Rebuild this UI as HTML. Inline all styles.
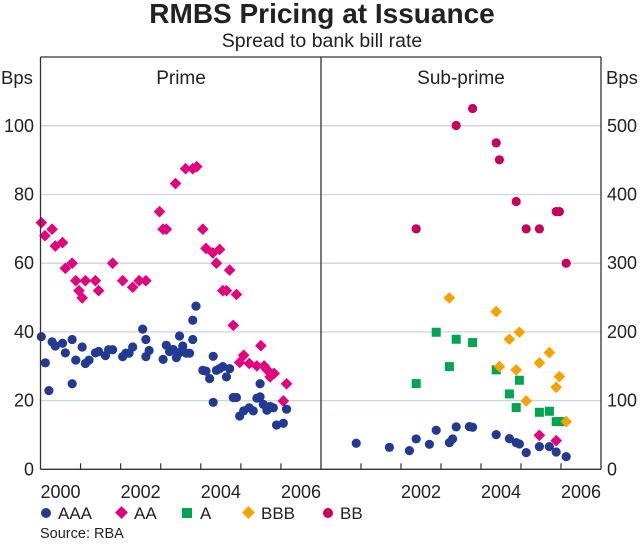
<!DOCTYPE html>
<html><head><meta charset="utf-8"><style>
body{margin:0;background:#fff;width:644px;height:540px;overflow:hidden;font-family:"Liberation Sans",Arial,sans-serif}
svg text{font-family:"Liberation Sans",Arial,sans-serif;fill:#222}
</style></head><body>
<svg id="c" width="644" height="540" viewBox="0 0 644 540">
<text x="322" y="23" text-anchor="middle" font-size="28" font-weight="bold">RMBS Pricing at Issuance</text>
<text x="322" y="47" text-anchor="middle" font-size="19.5">Spread to bank bill rate</text>
<text x="1" y="84" font-size="18.5">Bps</text>
<text x="606" y="84" font-size="18.5">Bps</text>
<text x="181" y="84" text-anchor="middle" font-size="19">Prime</text>
<text x="461" y="84" text-anchor="middle" font-size="19">Sub-prime</text>
<g id="grid"></g><g id="marks"></g><g id="axes"></g>
<g font-size="17">
<circle cx="46" cy="513" r="5" fill="#233a94"/><text x="58" y="519">AAA</text>
<rect x="117" y="508" width="9" height="9" fill="#e5007d" transform="rotate(45 121.5 512.5)"/><text x="134" y="519">AA</text>
<rect x="182" y="508" width="10" height="10" fill="#00a54f"/><text x="200" y="519">A</text>
<rect x="244" y="508" width="9" height="9" fill="#f6a200" transform="rotate(45 248.5 512.5)"/><text x="261" y="519">BBB</text>
<circle cx="328" cy="513" r="5" fill="#c8005a"/><text x="340" y="519">BB</text>
</g>
<text x="40" y="538" font-size="14.5">Source: RBA</text>
</svg>
<script>
const leftTicks=[0,20,40,60,80,100];
const rightTicks=[0,100,200,300,400,500];
const yearLabelsLeft=[2000,2002,2004,2006];
const yearLabelsRight=[2002,2004,2006];
const primeAAAyears=[2000.02,2000.12,2000.21,2000.29,2000.37,2000.55,2000.62,2000.79,2000.79,2000.88,2001.04,2001.12,2001.21,2001.37,2001.45,2001.62,2001.70,2001.80,2002.05,2002.13,2002.21,2002.30,2002.55,2002.63,2002.63,2002.71,2003.06,2003.14,2003.22,2003.31,2003.39,2003.47,2003.55,2003.47,2003.64,2003.72,2003.80,2003.80,2003.88,2004.05,2004.13,2004.22,2004.31,2004.31,2004.39,2004.47,2004.55,2004.64,2004.72,2004.81,2004.89,2004.97,2005.07,2005.21,2005.31,2005.40,2005.48,2005.48,2005.56,2005.65,2005.73,2005.81,2005.89,2006.06,2006.14];
const primeAAAvalues=[38.6,31.0,22.9,37.1,35.9,36.7,33.9,37.8,24.9,31.8,35.6,30.8,31.8,33.9,34.3,33.1,34.8,34.8,32.8,33.8,33.8,35.6,40.8,37.8,32.8,34.6,32.0,36.1,34.3,34.9,32.5,38.8,35.9,34.0,33.8,33.8,37.8,43.4,47.5,28.8,28.6,26.4,32.9,19.5,28.8,29.3,29.9,26.9,29.3,20.9,20.9,15.5,17.0,17.9,17.0,20.7,21.1,24.9,18.9,17.2,18.3,17.9,12.9,13.4,17.5];
const primeAAyears=[2000.02,2000.11,2000.29,2000.37,2000.55,2000.62,2000.79,2000.88,2000.96,2001.04,2001.12,2001.37,2001.45,2001.80,2002.05,2002.30,2002.46,2002.63,2002.97,2003.06,2003.14,2003.37,2003.62,2003.80,2003.90,2004.05,2004.13,2004.30,2004.39,2004.47,2004.72,2004.55,2004.64,2004.89,2004.81,2004.97,2005.07,2005.21,2005.40,2005.50,2005.58,2005.65,2005.73,2005.83,2006.06,2006.14];
const primeAAvalues=[71.8,68.0,69.9,65.0,66.0,58.5,60.0,54.9,52.0,49.9,54.9,54.9,52.0,60.0,54.9,53.0,54.9,54.9,75.0,69.9,69.9,83.2,87.5,87.5,88.1,69.9,64.3,63.0,60.0,64.0,58.0,52.0,52.0,50.9,41.9,31.1,33.2,30.8,30.1,36.0,30.1,29.0,26.9,27.9,19.9,24.9];
const subAAAyears=[2000.88,2001.71,2002.21,2002.38,2002.71,2002.88,2003.21,2003.29,2003.38,2003.71,2003.79,2004.38,2004.71,2004.88,2004.96,2005.13,2005.46,2005.71,2005.88,2006.13];
const subAAAvalues=[37.9,32.0,27.2,44.2,36.4,56.8,38.8,44.2,61.7,62.1,61.2,50.5,44.7,38.8,36.9,24.3,33.0,33.0,25.2,18.4];
const subAAyears=[2005.46,2005.88];
const subAAvalues=[49.5,41.7];
const subAyears=[2002.38,2002.88,2003.21,2003.38,2003.79,2004.38,2004.96,2004.71,2004.88,2005.46,2005.71,2005.88,2005.98];
const subAvalues=[124.8,199.5,149.5,189.3,184.5,144.7,129.6,109.7,89.8,83.0,84.5,69.4,69.4];
const subBBByears=[2003.21,2004.38,2004.71,2004.96,2004.46,2004.88,2005.71,2005.46,2005.96,2005.88,2005.13,2006.13];
const subBBBvalues=[249.5,229.6,189.3,199.5,149.5,144.7,169.9,154.9,135.0,119.4,99.5,69.4];
const subBByears=[2002.38,2003.38,2003.79,2004.38,2004.46,2004.88,2005.13,2005.46,2005.88,2005.96,2006.13];
const subBBvalues=[350,500.5,525.2,475.2,450.5,389.8,350,350,375.2,375.2,300];

const NS='http://www.w3.org/2000/svg';
const TOP=57,BOT=469.3,L0=40.5,MID=321,R1=601;
const yL=v=>BOT-v*3.435;
const yR=v=>BOT-v*0.6870;
const xL=y=>L0+(y-2000)*(MID-L0)/7;
const xR=y=>MID+(y-2000)*(R1-MID)/7;
function mk(tag,attrs,parent){const e=document.createElementNS(NS,tag);for(const k in attrs)e.setAttribute(k,attrs[k]);parent.appendChild(e);return e;}
const grid=document.getElementById('grid'),marks=document.getElementById('marks'),axes=document.getElementById('axes');
leftTicks.forEach((t,i)=>{
  if(t>0){const g=mk('line',{x1:L0,x2:R1,y1:yL(t),y2:yL(t),stroke:'#cfd3da','stroke-width':1.3},grid);
  
  }
  const tx=mk('text',{x:34,y:yL(t)+6,'text-anchor':'end','font-size':18},axes);tx.textContent=t;
  
  
});
rightTicks.forEach(t=>{
  const tx=mk('text',{x:607,y:yR(t)+6,'font-size':18},axes);tx.textContent=t;
  
  
});
[[L0,TOP,L0,BOT],[MID,TOP,MID,BOT],[R1,TOP,R1,BOT],[L0,BOT,R1,BOT],[L0,TOP,R1,TOP]].forEach(a=>{
  const l=mk('line',{x1:a[0],y1:a[1],x2:a[2],y2:a[3],stroke:'#333','stroke-width':1.3},axes);
  
  
});
for(let yr=2001;yr<=2006;yr++){
  [xL(yr),xR(yr)].forEach(x=>{const l=mk('line',{x1:x,x2:x,y1:BOT,y2:BOT-6,stroke:'#333','stroke-width':1.2},axes);
  
  });
}
yearLabelsLeft.forEach(y=>{const t=mk('text',{x:xL(y+0.5),y:498,'text-anchor':'middle','font-size':18},axes);t.textContent=y;
  
  });
yearLabelsRight.forEach(y=>{const t=mk('text',{x:xR(y+0.5),y:498,'text-anchor':'middle','font-size':18},axes);t.textContent=y;
  
  });
function circ(x,y,c,name){const e=mk('circle',{cx:x,cy:y,r:4.6,fill:c},marks);
  
  }
function dia(x,y,c,name){const s=4.3;const e=mk('polygon',{points:`${x},${y-s*1.35} ${x+s*1.35},${y} ${x},${y+s*1.35} ${x-s*1.35},${y}`,fill:c},marks);
  
  }
function sq(x,y,c,name){const e=mk('rect',{x:x-4.5,y:y-4.5,width:9,height:9,fill:c},marks);
  
  }
primeAAyears.forEach((y,i)=>dia(xL(y),yL(primeAAvalues[i]),'#e5007d','prime-aa-point'));
primeAAAyears.forEach((y,i)=>circ(xL(y),yL(primeAAAvalues[i]),'#233a94','prime-aaa-point'));
subBByears.forEach((y,i)=>circ(xR(y),yR(subBBvalues[i]),'#c8005a','subprime-bb-point'));
subAyears.forEach((y,i)=>sq(xR(y),yR(subAvalues[i]),'#00a54f','subprime-a-point'));
subBBByears.forEach((y,i)=>dia(xR(y),yR(subBBBvalues[i]),'#f6a200','subprime-bbb-point'));
subAAyears.forEach((y,i)=>dia(xR(y),yR(subAAvalues[i]),'#e5007d','subprime-aa-point'));
subAAAyears.forEach((y,i)=>circ(xR(y),yR(subAAAvalues[i]),'#233a94','subprime-aaa-point'));
</script>
</body></html>
